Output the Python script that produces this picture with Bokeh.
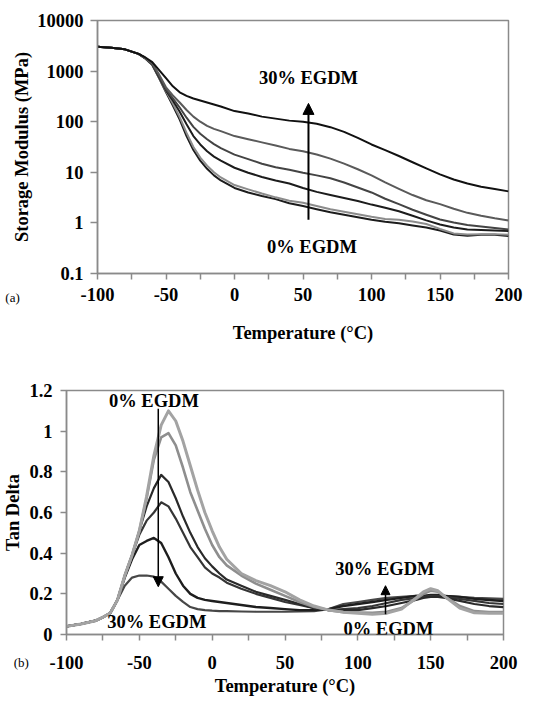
from bokeh.plotting import figure
from bokeh.layouts import column
from bokeh.models import (Range1d, FixedTicker, Label, Arrow, NormalHead,
                          CustomJSTickFormatter)
from bokeh.embed import file_html
from bokeh.resources import INLINE

FONT = "Liberation Serif"
FS = "18.5px"

# ---------------- (a) Storage modulus (MPa) ----------------
temp_a = [-100, -90, -80, -70, -65, -60, -55, -50, -45, -40, -35, -30, -25, -20, -15, -10,
          0, 10, 20, 30, 40, 50, 60, 70, 80, 90, 100, 110, 120, 130, 140, 150, 160, 170, 180,
          190, 200]

storage_30 = [3020, 2880, 2690, 2190, 1860, 1510, 1050, 724, 500, 380, 324, 288, 263, 240, 219, 200,
              162, 145, 126, 115, 105, 100, 91, 78, 63, 48, 35.5, 27.5, 21, 15.8, 12, 9.1, 7.2, 6.0,
              5.2, 4.7, 4.2]
storage_20 = [3020, 2880, 2690, 2190, 1780, 1410, 851, 479, 331, 240, 170, 126, 100, 83, 72, 65,
              52, 45, 39, 34, 29, 26, 22.4, 18.6, 14.8, 11.5, 8.7, 6.3, 4.7, 3.55, 2.8, 2.35, 1.9,
              1.58, 1.38, 1.23, 1.12]
storage_15 = [3020, 2880, 2690, 2190, 1780, 1380, 794, 437, 288, 191, 120, 79, 58, 45, 36, 30,
              22.4, 18.2, 14.8, 12.6, 11.2, 9.8, 8.7, 7.6, 6.3, 5.0, 4.0, 3.0, 2.35, 1.82, 1.45, 1.17,
              1.02, 0.91, 0.85, 0.79, 0.74]
storage_10 = [3020, 2880, 2690, 2190, 1780, 1350, 759, 417, 263, 158, 89, 52, 35.5, 26, 20.4, 17,
              12.3, 9.8, 8.1, 6.9, 6.0, 4.9, 4.1, 3.55, 3.1, 2.7, 2.3, 2.0, 1.7, 1.38, 1.12, 0.93,
              0.81, 0.74, 0.72, 0.71, 0.69]
storage_5 = [3020, 2880, 2690, 2190, 1780, 1320, 741, 398, 229, 123, 60, 31.6, 19.5, 13.5, 10, 7.9,
             5.6, 4.6, 3.8, 3.2, 2.75, 2.5, 2.15, 1.86, 1.66, 1.48, 1.32, 1.2, 1.15, 1.07, 0.95, 0.76,
             0.62, 0.59, 0.60, 0.60, 0.58]
storage_0 = [3020, 2880, 2690, 2190, 1780, 1320, 724, 380, 209, 110, 52, 27.5, 17, 11.7, 8.7, 6.9,
             4.9, 4.0, 3.4, 2.95, 2.45, 2.15, 1.86, 1.62, 1.45, 1.29, 1.15, 1.05, 0.98, 0.89, 0.81,
             0.71, 0.59, 0.56, 0.58, 0.58, 0.55]

# ---------------- (b) Tan delta ----------------
temp_b = [-100, -90, -80, -75, -70, -65, -60, -55, -50, -45, -40, -35, -30, -25, -20, -15, -10, -5,
          0, 5, 10, 20, 30, 40, 50, 60, 70, 80, 90, 100, 110, 120, 130, 140, 145, 150, 155, 160,
          170, 180, 190, 200]

tan_0 = [0.040, 0.052, 0.068, 0.085, 0.105, 0.17, 0.29, 0.39, 0.51, 0.68, 0.88, 1.03, 1.10, 1.05,
         0.95, 0.83, 0.71, 0.60, 0.51, 0.43, 0.37, 0.30, 0.265, 0.24, 0.21, 0.17, 0.14, 0.12, 0.11,
         0.105, 0.10, 0.105, 0.125, 0.18, 0.21, 0.225, 0.215, 0.185, 0.13, 0.107, 0.105, 0.105]
tan_5 = [0.040, 0.052, 0.068, 0.085, 0.105, 0.17, 0.29, 0.39, 0.51, 0.67, 0.86, 0.97, 0.99, 0.93,
         0.82, 0.70, 0.61, 0.52, 0.44, 0.38, 0.34, 0.29, 0.25, 0.22, 0.19, 0.16, 0.135, 0.12, 0.11,
         0.108, 0.107, 0.112, 0.13, 0.175, 0.20, 0.215, 0.21, 0.185, 0.14, 0.115, 0.11, 0.11]
tan_10 = [0.040, 0.052, 0.068, 0.085, 0.105, 0.17, 0.29, 0.39, 0.51, 0.63, 0.72, 0.785, 0.75, 0.67,
          0.58, 0.50, 0.43, 0.375, 0.335, 0.30, 0.27, 0.24, 0.21, 0.19, 0.17, 0.15, 0.13, 0.12, 0.12,
          0.12, 0.13, 0.14, 0.155, 0.17, 0.18, 0.185, 0.185, 0.18, 0.165, 0.15, 0.14, 0.135]
tan_15 = [0.040, 0.052, 0.068, 0.085, 0.105, 0.17, 0.29, 0.39, 0.49, 0.56, 0.60, 0.65, 0.63, 0.57,
          0.50, 0.43, 0.38, 0.33, 0.30, 0.28, 0.255, 0.225, 0.20, 0.18, 0.16, 0.145, 0.13, 0.12, 0.125,
          0.13, 0.14, 0.155, 0.17, 0.18, 0.185, 0.19, 0.19, 0.185, 0.175, 0.165, 0.155, 0.15]
tan_20 = [0.040, 0.052, 0.068, 0.085, 0.105, 0.17, 0.28, 0.37, 0.44, 0.46, 0.475, 0.45, 0.38, 0.30,
          0.24, 0.20, 0.18, 0.17, 0.165, 0.16, 0.155, 0.145, 0.135, 0.13, 0.125, 0.12, 0.12, 0.125,
          0.14, 0.15, 0.16, 0.17, 0.18, 0.19, 0.19, 0.195, 0.195, 0.19, 0.185, 0.175, 0.17, 0.165]
tan_30 = [0.040, 0.052, 0.068, 0.085, 0.105, 0.17, 0.24, 0.28, 0.29, 0.29, 0.285, 0.26, 0.225, 0.19,
          0.16, 0.135, 0.125, 0.12, 0.117, 0.115, 0.115, 0.113, 0.112, 0.112, 0.112, 0.113, 0.115,
          0.125, 0.15, 0.16, 0.17, 0.18, 0.185, 0.19, 0.19, 0.19, 0.19, 0.19, 0.185, 0.18, 0.178, 0.175]

x_ticks = [-100, -50, 0, 50, 100, 150, 200]
x_minor = [-75, -25, 25, 75, 125, 175]
ya_ticks = [0.1, 1, 10, 100, 1000, 10000]
yb_ticks = [0, 0.2, 0.4, 0.6, 0.8, 1.0, 1.2]

AX = "#8a8a8a"


def style(p):
    p.background_fill_color = "white"
    p.border_fill_color = "white"
    p.outline_line_color = AX
    p.outline_line_width = 1.5
    p.xgrid.visible = False
    p.ygrid.visible = False
    for ax in (p.xaxis[0], p.yaxis[0]):
        ax.axis_line_color = AX
        ax.axis_line_width = 1.5
        ax.major_tick_line_color = AX
        ax.major_tick_line_width = 1.5
        ax.minor_tick_line_color = AX
        ax.minor_tick_line_width = 1.5
        ax.major_tick_in = 0
        ax.minor_tick_in = 0
        ax.major_label_text_font = FONT
        ax.major_label_text_font_style = "bold"
        ax.major_label_text_font_size = FS
        ax.major_label_text_color = "black"
        ax.axis_label_text_font = FONT
        ax.axis_label_text_font_style = "bold"
        ax.axis_label_text_font_size = FS
        ax.axis_label_text_color = "black"
    p.xaxis.ticker = FixedTicker(ticks=x_ticks, minor_ticks=x_minor)
    p.xaxis.major_tick_out = 6
    p.xaxis.minor_tick_out = 6
    p.xaxis.formatter = CustomJSTickFormatter(code="return tick.toFixed(0);")
    p.yaxis.major_tick_out = 7
    p.yaxis.minor_tick_line_color = None
    p.yaxis.major_label_standoff = 7


def lbl(p, x, y, text, size=FS, bold=True, place=None):
    lab = Label(x=x, y=y, text=text, text_font=FONT,
                text_font_style="bold" if bold else "normal",
                text_font_size=size, text_align="center",
                text_baseline="middle", text_color="black")
    if place is None:
        p.add_layout(lab)
    else:
        p.add_layout(lab, place)


# ---- panel (a)
p1 = figure(width=543, height=348, y_axis_type="log",
            x_range=Range1d(-100, 200), y_range=Range1d(0.1, 10000),
            output_backend="svg", toolbar_location=None, frame_align=False,
            min_border_left=97, min_border_right=35,
            min_border_top=20, min_border_bottom=75)
style(p1)
p1.yaxis.ticker = FixedTicker(ticks=ya_ticks)
p1.yaxis.formatter = CustomJSTickFormatter(
    code="return tick >= 1 ? tick.toFixed(0) : tick.toFixed(1);")
p1.xaxis.axis_label = "Temperature (°C)"
p1.yaxis.axis_label = "Storage Modulus (MPa)"
p1.xaxis.major_label_standoff = 8
p1.xaxis.axis_label_standoff = 19
p1.yaxis.axis_label_standoff = 2

for ys, col in [(storage_0, "#1c1c1c"), (storage_5, "#8c8c8c"), (storage_10, "#1c1c1c"),
                (storage_15, "#444444"), (storage_20, "#5a5a5a"), (storage_30, "#111111")]:
    p1.line(temp_a, ys, line_color=col, line_width=2, line_join="round")

p1.add_layout(Arrow(end=NormalHead(size=11, fill_color="black", line_color="black"),
                    x_start=54, y_start=1.15, x_end=54, y_end=230,
                    line_color="black", line_width=2))
lbl(p1, 54, 733, "30% EGDM")
lbl(p1, 56.5, 0.337, "0% EGDM")
lbl(p1, -162, 0.034, "(a)", size="13px", bold=False, place="right")

# ---- panel (b)
p2 = figure(width=543, height=354,
            x_range=Range1d(-100, 200), y_range=Range1d(0, 1.2),
            output_backend="svg", toolbar_location=None, frame_align=False,
            min_border_left=61, min_border_right=40,
            min_border_top=42, min_border_bottom=68)
style(p2)
p2.yaxis.ticker = FixedTicker(ticks=yb_ticks)
p2.yaxis.formatter = CustomJSTickFormatter(
    code="return (Math.round(tick*10)/10).toString();")
p2.xaxis.axis_label = "Temperature (°C)"
p2.yaxis.axis_label = "Tan Delta"
p2.xaxis.major_label_standoff = 15
p2.xaxis.axis_label_standoff = 4
p2.yaxis.major_tick_out = 6
p2.yaxis.major_label_standoff = 8
p2.yaxis.axis_label_standoff = 3

for ys, col, w in [(tan_30, "#474747", 2.2), (tan_20, "#1e1e1e", 2.4), (tan_15, "#353535", 2.2),
                   (tan_10, "#2a2a2a", 2.2), (tan_5, "#8e8e8e", 2.6), (tan_0, "#a3a3a3", 3.0)]:
    p2.line(temp_b, ys, line_color=col, line_width=w, line_join="round")

p2.add_layout(Arrow(end=NormalHead(size=10, fill_color="black", line_color="black"),
                    x_start=-37, y_start=1.11, x_end=-37, y_end=0.235,
                    line_color="black", line_width=1.5))
p2.add_layout(Arrow(end=NormalHead(size=9, fill_color="black", line_color="black"),
                    x_start=119, y_start=0.10, x_end=119, y_end=0.24,
                    line_color="black", line_width=1.5))
lbl(p2, -40, 1.146, "0% EGDM")
lbl(p2, -38, 0.06, "30% EGDM")
lbl(p2, 118.6, 0.323, "30% EGDM")
lbl(p2, 121, 0.025, "0% EGDM")
lbl(p2, -131, -0.138, "(b)", size="13px", bold=False, place="right")

layout = column(p1, p2, spacing=0)
open("out.html", "w").write(file_html(layout, INLINE))
